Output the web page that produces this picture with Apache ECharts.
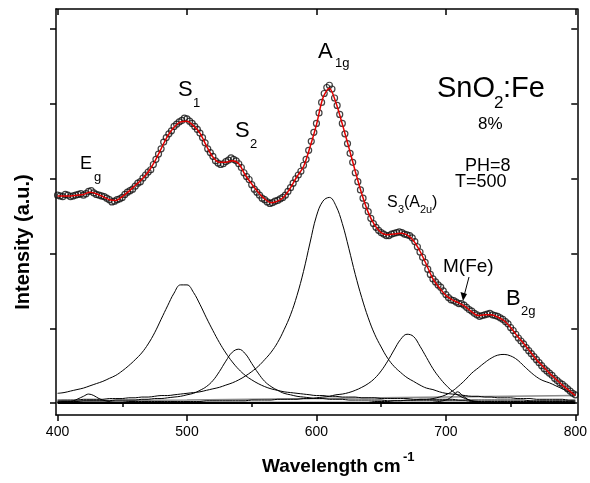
<!DOCTYPE html>
<html>
<head>
<meta charset="utf-8">
<script src="https://cdn.jsdelivr.net/npm/echarts@6/dist/echarts.min.js"></script>
<style>
  html, body { margin: 0; padding: 0; background: #fff; }
  #chart { width: 590px; height: 483px; }
</style>
</head>
<body>
<div id="chart"></div>
<script>
// Raman spectrum SnO2:Fe 8% — measured points, fit and Lorentzian components
const wave = [400, 405, 410, 415, 420, 425, 430, 435, 440, 445, 450, 455, 460, 465, 470, 475, 480, 485, 490, 495,
  500, 505, 510, 515, 520, 525, 530, 535, 540, 545, 550, 555, 560, 565, 570, 575, 580, 585, 590, 595,
  600, 605, 610, 615, 620, 625, 630, 635, 640, 645, 650, 655, 660, 665, 670, 675, 680, 685, 690, 695,
  700, 705, 710, 715, 720, 725, 730, 735, 740, 745, 750, 755, 760, 765, 770, 775, 780, 785, 790, 795, 800]

const fit = [2.77, 2.77, 2.77, 2.78, 2.79, 2.82, 2.80, 2.76, 2.72, 2.71, 2.76, 2.83, 2.91, 2.99, 3.09, 3.23, 3.40, 3.57, 3.69, 3.76,
  3.77, 3.71, 3.61, 3.44, 3.29, 3.22, 3.22, 3.24, 3.20, 3.05, 2.93, 2.82, 2.73, 2.68, 2.70, 2.76, 2.88, 3.03, 3.16, 3.42,
  3.72, 4.08, 4.21, 4.02, 3.73, 3.42, 3.10, 2.80, 2.55, 2.38, 2.28, 2.25, 2.26, 2.27, 2.25, 2.17, 2.03, 1.85, 1.66, 1.54,
  1.44, 1.38, 1.34, 1.29, 1.22, 1.17, 1.18, 1.18, 1.15, 1.10, 1.01, 0.90, 0.80, 0.69, 0.58, 0.49, 0.40, 0.32, 0.24, 0.17, 0.10]

const peakS1 = [0.13, 0.14, 0.16, 0.18, 0.20, 0.23, 0.26, 0.29, 0.33, 0.37, 0.43, 0.50, 0.58, 0.67, 0.79, 0.94, 1.12, 1.30, 1.47, 1.58,
  1.58, 1.48, 1.32, 1.14, 0.97, 0.81, 0.67, 0.55, 0.45, 0.37, 0.31, 0.26, 0.22, 0.19, 0.17, 0.15, 0.14, 0.13, 0.12, 0.11,
  0.10, 0.10, 0.09, 0.09, 0.08, 0.08, 0.08, 0.07, 0.07, 0.07, 0.06, 0.06, 0.06, 0.06, 0.06, 0.05, 0.05, 0.05, 0.05, 0.05,
  0.05, 0.05, 0.04, 0.04, 0.04, 0.04, 0.04, 0.04, 0.04, 0.04, 0.04, 0.04, 0.04, 0.03, 0.03, 0.03, 0.03, 0.03, 0.03, 0.03, 0.03]

const peakS2 = [0.02, 0.02, 0.02, 0.02, 0.03, 0.03, 0.03, 0.03, 0.03, 0.04, 0.04, 0.04, 0.04, 0.05, 0.05, 0.06, 0.06, 0.07, 0.08, 0.09,
  0.11, 0.13, 0.17, 0.22, 0.30, 0.42, 0.56, 0.68, 0.72, 0.66, 0.53, 0.40, 0.29, 0.22, 0.17, 0.13, 0.11, 0.09, 0.08, 0.07,
  0.06, 0.06, 0.05, 0.05, 0.05, 0.04, 0.04, 0.04, 0.04, 0.04, 0.04, 0.03, 0.03, 0.03, 0.03, 0.03, 0.03, 0.03, 0.03, 0.03,
  0.03, 0.03, 0.03, 0.03, 0.02, 0.02, 0.02, 0.02, 0.02, 0.02, 0.02, 0.02, 0.02, 0.02, 0.02, 0.02, 0.02, 0.02, 0.02, 0.02, 0.02]

const peakA1g = [0.04, 0.04, 0.04, 0.04, 0.05, 0.05, 0.05, 0.05, 0.06, 0.06, 0.06, 0.07, 0.07, 0.08, 0.08, 0.09, 0.10, 0.10, 0.11, 0.12,
  0.13, 0.14, 0.15, 0.17, 0.19, 0.21, 0.24, 0.27, 0.31, 0.36, 0.42, 0.49, 0.58, 0.68, 0.81, 0.98, 1.18, 1.44, 1.76, 2.14,
  2.50, 2.70, 2.75, 2.64, 2.40, 2.07, 1.72, 1.41, 1.14, 0.92, 0.75, 0.60, 0.49, 0.41, 0.34, 0.29, 0.24, 0.20, 0.18, 0.15,
  0.13, 0.12, 0.11, 0.10, 0.09, 0.09, 0.08, 0.08, 0.07, 0.07, 0.07, 0.06, 0.06, 0.06, 0.05, 0.05, 0.05, 0.05, 0.05, 0.04, 0.04]

const peakS3 = [0.01, 0.01, 0.01, 0.01, 0.01, 0.01, 0.01, 0.01, 0.01, 0.01, 0.01, 0.02, 0.02, 0.02, 0.02, 0.02, 0.02, 0.02, 0.02, 0.02,
  0.02, 0.02, 0.02, 0.03, 0.03, 0.03, 0.03, 0.03, 0.03, 0.03, 0.04, 0.04, 0.04, 0.04, 0.05, 0.05, 0.05, 0.05, 0.06, 0.06,
  0.07, 0.08, 0.09, 0.11, 0.12, 0.14, 0.17, 0.21, 0.26, 0.33, 0.43, 0.56, 0.71, 0.85, 0.92, 0.89, 0.76, 0.61, 0.46, 0.34,
  0.24, 0.16, 0.10, 0.06, 0.03, 0.02, 0.01, 0.01, 0.01, 0.01, 0.01, 0.01, 0.01, 0.01, 0.01, 0.01, 0.01, 0.01, 0.01, 0.01, 0.01]

const peakB2g = [0.01, 0.01, 0.01, 0.01, 0.01, 0.01, 0.01, 0.01, 0.01, 0.01, 0.01, 0.01, 0.01, 0.01, 0.01, 0.01, 0.01, 0.01, 0.01, 0.01,
  0.01, 0.01, 0.01, 0.01, 0.01, 0.01, 0.01, 0.01, 0.01, 0.01, 0.01, 0.01, 0.01, 0.01, 0.01, 0.01, 0.01, 0.01, 0.01, 0.01,
  0.01, 0.01, 0.01, 0.01, 0.01, 0.01, 0.01, 0.01, 0.01, 0.02, 0.02, 0.02, 0.03, 0.03, 0.04, 0.04, 0.05, 0.05, 0.06, 0.08,
  0.11, 0.16, 0.23, 0.31, 0.40, 0.47, 0.54, 0.60, 0.64, 0.65, 0.63, 0.58, 0.50, 0.42, 0.35, 0.30, 0.27, 0.23, 0.19, 0.15, 0.13]

// narrow peaks, [wavenumber, intensity]
const peakEg = [[400, 0.01], [410, 0.02], [415, 0.05], [420, 0.09], [424, 0.12], [428, 0.10], [432, 0.06], [437, 0.03], [445, 0.01], [460, 0.01]]
const peakMFe = [[690, 0.01], [700, 0.04], [705, 0.09], [709, 0.15], [713, 0.10], [718, 0.04], [725, 0.01]]
const baseGray = [[400, 0.03], [500, 0.04], [600, 0.06], [700, 0.08], [800, 0.10]]
const baseZero = [[400, 0], [800, 0]]

// measured points (open circles), two interleaved passes
const obsWave = [400, 404, 408, 412, 416, 420, 424, 428, 432, 436, 440, 444, 448, 452, 456, 460, 464, 468, 472, 476,
  480, 484, 488, 492, 496, 500, 504, 508, 512, 516, 520, 524, 528, 532, 536, 540, 544, 548, 552, 556,
  560, 564, 568, 572, 576, 580, 584, 588, 592, 596, 600, 604, 608, 612, 616, 620, 624, 628, 632, 636,
  640, 644, 648, 652, 656, 660, 664, 668, 672, 676, 680, 684, 688, 692, 696, 700, 704, 708, 712, 716,
  720, 724, 728, 732, 736, 740, 744, 748, 752, 756, 760, 764, 768, 772, 776, 780, 784, 788, 792, 796, 800]
const obsVal = [2.78, 2.76, 2.78, 2.77, 2.79, 2.78, 2.83, 2.81, 2.78, 2.76, 2.72, 2.70, 2.73, 2.79, 2.84, 2.90, 2.96, 3.05, 3.12, 3.26,
  3.40, 3.55, 3.64, 3.73, 3.78, 3.80, 3.74, 3.66, 3.55, 3.40, 3.30, 3.21, 3.20, 3.25, 3.26, 3.20, 3.08, 2.99, 2.86, 2.78,
  2.72, 2.67, 2.70, 2.73, 2.78, 2.88, 3.00, 3.10, 3.26, 3.50, 3.74, 4.02, 4.22, 4.20, 3.98, 3.74, 3.47, 3.22, 2.96, 2.74,
  2.56, 2.40, 2.31, 2.26, 2.24, 2.27, 2.29, 2.26, 2.24, 2.16, 2.02, 1.88, 1.72, 1.62, 1.55, 1.45, 1.38, 1.35, 1.33, 1.28,
  1.23, 1.18, 1.17, 1.19, 1.18, 1.16, 1.12, 1.06, 0.97, 0.87, 0.79, 0.70, 0.62, 0.54, 0.46, 0.40, 0.33, 0.27, 0.22, 0.16, 0.11]

const obsWaveMid = [402, 406, 410, 414, 418, 422, 426, 430, 434, 438, 442, 446, 450, 454, 458, 462, 466, 470, 474, 478,
  482, 486, 490, 494, 498, 502, 506, 510, 514, 518, 522, 526, 530, 534, 538, 542, 546, 550, 554, 558,
  562, 566, 570, 574, 578, 582, 586, 590, 594, 598, 602, 606, 610, 614, 618, 622, 626, 630, 634, 638,
  642, 646, 650, 654, 658, 662, 666, 670, 674, 678, 682, 686, 690, 694, 698, 702, 706, 710, 714, 718,
  722, 726, 730, 734, 738, 742, 746, 750, 754, 758, 762, 766, 770, 774, 778, 782, 786, 790, 794, 798]
const obsValMid = [2.77, 2.79, 2.76, 2.78, 2.80, 2.80, 2.84, 2.79, 2.77, 2.74, 2.69, 2.72, 2.75, 2.82, 2.86, 2.94, 3.01, 3.09, 3.19, 3.33,
  3.49, 3.60, 3.70, 3.76, 3.81, 3.77, 3.70, 3.61, 3.48, 3.35, 3.24, 3.19, 3.23, 3.28, 3.24, 3.15, 3.03, 2.92, 2.82, 2.74,
  2.69, 2.68, 2.71, 2.75, 2.83, 2.94, 3.05, 3.18, 3.38, 3.62, 3.88, 4.14, 4.25, 4.08, 3.86, 3.60, 3.34, 3.08, 2.85, 2.64,
  2.47, 2.35, 2.28, 2.24, 2.26, 2.28, 2.28, 2.25, 2.21, 2.09, 1.95, 1.79, 1.66, 1.58, 1.50, 1.41, 1.37, 1.33, 1.31, 1.25,
  1.20, 1.16, 1.18, 1.20, 1.17, 1.14, 1.09, 1.01, 0.92, 0.83, 0.74, 0.66, 0.58, 0.50, 0.43, 0.37, 0.30, 0.25, 0.19, 0.13]

const xTicks = [400, 500, 600, 700, 800]
const xMinorTicks = [450, 550, 650, 750]
const yTicks = [0, 1, 2, 3, 4, 5]

const FONT = '"Liberation Sans", Arial, sans-serif'
const pair = (xs, ys) => xs.map((x, i) => [x, ys[i]])

const chart = echarts.init(document.getElementById('chart'))

const axisLine = { show: true, onZero: false, lineStyle: { color: '#000', width: 1.5 } }
const xBase = { type: 'value', min: 398.8, max: 801.5, splitLine: { show: false } }
const yBase = { type: 'value', min: -0.16, max: 5.27, splitLine: { show: false }, axisLabel: { show: false } }

const component = (name, data, color, width) => ({
  name,
  type: 'line',
  data,
  smooth: 0.4,
  showSymbol: false,
  lineStyle: { color: color || '#000', width: width || 1 },
  z: 3
})

const text = (str, x, y, size, opts) => Object.assign({
  type: 'text',
  x, y,
  style: Object.assign({
    text: str,
    font: (opts && opts.bold ? 'bold ' : '') + size + 'px ' + FONT,
    fill: '#000',
    align: 'left',
    verticalAlign: 'middle'
  }, opts && opts.style)
}, opts && opts.el)

const option = {
  animation: false,
  backgroundColor: '#fff',
  grid: { left: 56, right: 9.5, top: 9, bottom: 68 },
  xAxis: [
    Object.assign({}, xBase, {
      position: 'bottom',
      axisLine,
      axisTick: { customValues: xTicks, length: 6, lineStyle: { color: '#000', width: 1.5 } },
      axisLabel: { customValues: xTicks, fontSize: 14, color: '#000', fontFamily: FONT, margin: 10 }
    }),
    Object.assign({}, xBase, {
      position: 'top',
      axisLine,
      axisTick: { inside: true, customValues: xTicks, length: 6, lineStyle: { color: '#000', width: 1.5 } },
      axisLabel: { show: false }
    }),
    Object.assign({}, xBase, {
      position: 'bottom',
      axisLine: { show: false },
      axisTick: { customValues: xMinorTicks, length: 4, lineStyle: { color: '#000', width: 1.5 } },
      axisLabel: { show: false }
    }),
    Object.assign({}, xBase, {
      position: 'top',
      axisLine: { show: false },
      axisTick: { inside: true, customValues: xMinorTicks, length: 4, lineStyle: { color: '#000', width: 1.5 } },
      axisLabel: { show: false }
    })
  ],
  yAxis: [
    Object.assign({}, yBase, {
      position: 'left',
      axisLine,
      axisTick: { customValues: yTicks, length: 6, lineStyle: { color: '#000', width: 1.5 } }
    }),
    Object.assign({}, yBase, {
      position: 'right',
      axisLine,
      axisTick: { inside: true, customValues: yTicks, length: 6, lineStyle: { color: '#000', width: 1.5 } }
    })
  ],
  series: [
    component('baseline', baseZero, '#000', 2),
    component('baseGray', baseGray, '#8a8a8a', 1.5),
    component('Eg', peakEg),
    component('S1', pair(wave, peakS1)),
    component('S2', pair(wave, peakS2)),
    component('A1g', pair(wave, peakA1g)),
    component('S3', pair(wave, peakS3)),
    component('M(Fe)', peakMFe),
    component('B2g', pair(wave, peakB2g)),
    {
      name: 'measured',
      type: 'scatter',
      data: pair(obsWave, obsVal).concat(pair(obsWaveMid, obsValMid)),
      symbol: 'circle',
      symbolSize: 6,
      itemStyle: { color: 'rgba(255,255,255,0)', borderColor: '#111', borderWidth: 1.2 },
      z: 4
    },
    {
      name: 'fit',
      type: 'line',
      data: pair(wave, fit),
      smooth: 0.3,
      showSymbol: false,
      lineStyle: { color: '#e00000', width: 1.5 },
      z: 5
    }
  ],
  graphic: [
    text('E', 80, 164, 18),
    text('g', 94, 177, 13),
    text('S', 178, 90, 22),
    text('1', 193, 103, 13),
    text('S', 235, 131, 22),
    text('2', 250, 144, 13),
    text('A', 318, 52, 22),
    text('1g', 335, 63, 13),
    text('SnO', 437, 89, 29),
    text('2', 494, 103, 17),
    text(':Fe', 503, 89, 29),
    text('8%', 478, 124, 17),
    text('PH=8', 465, 166, 18),
    text('T=500', 455, 182, 18),
    text('S', 387, 203, 16),
    text('3', 398, 210, 11),
    text('(A', 404, 203, 16),
    text('2u', 420, 210, 11),
    text(')', 432, 203, 16),
    text('M(Fe)', 443, 267, 19),
    {
      type: 'line',
      shape: { x1: 469, y1: 277, x2: 464, y2: 296 },
      style: { stroke: '#000', lineWidth: 1 }
    },
    {
      type: 'polygon',
      shape: { points: [[463, 301], [460.5, 292], [467, 294]] },
      style: { fill: '#000' }
    },
    text('B', 506, 299, 22),
    text('2g', 521, 311, 13),
    text('Wavelength cm', 262, 467, 19, { bold: true }),
    text('-1', 403, 457, 13, { bold: true }),
    text('Intensity (a.u.)', 23, 242, 20, {
      bold: true,
      style: { align: 'center' },
      el: { rotation: Math.PI / 2 }
    })
  ]
}

chart.setOption(option)
</script>
</body>
</html>
